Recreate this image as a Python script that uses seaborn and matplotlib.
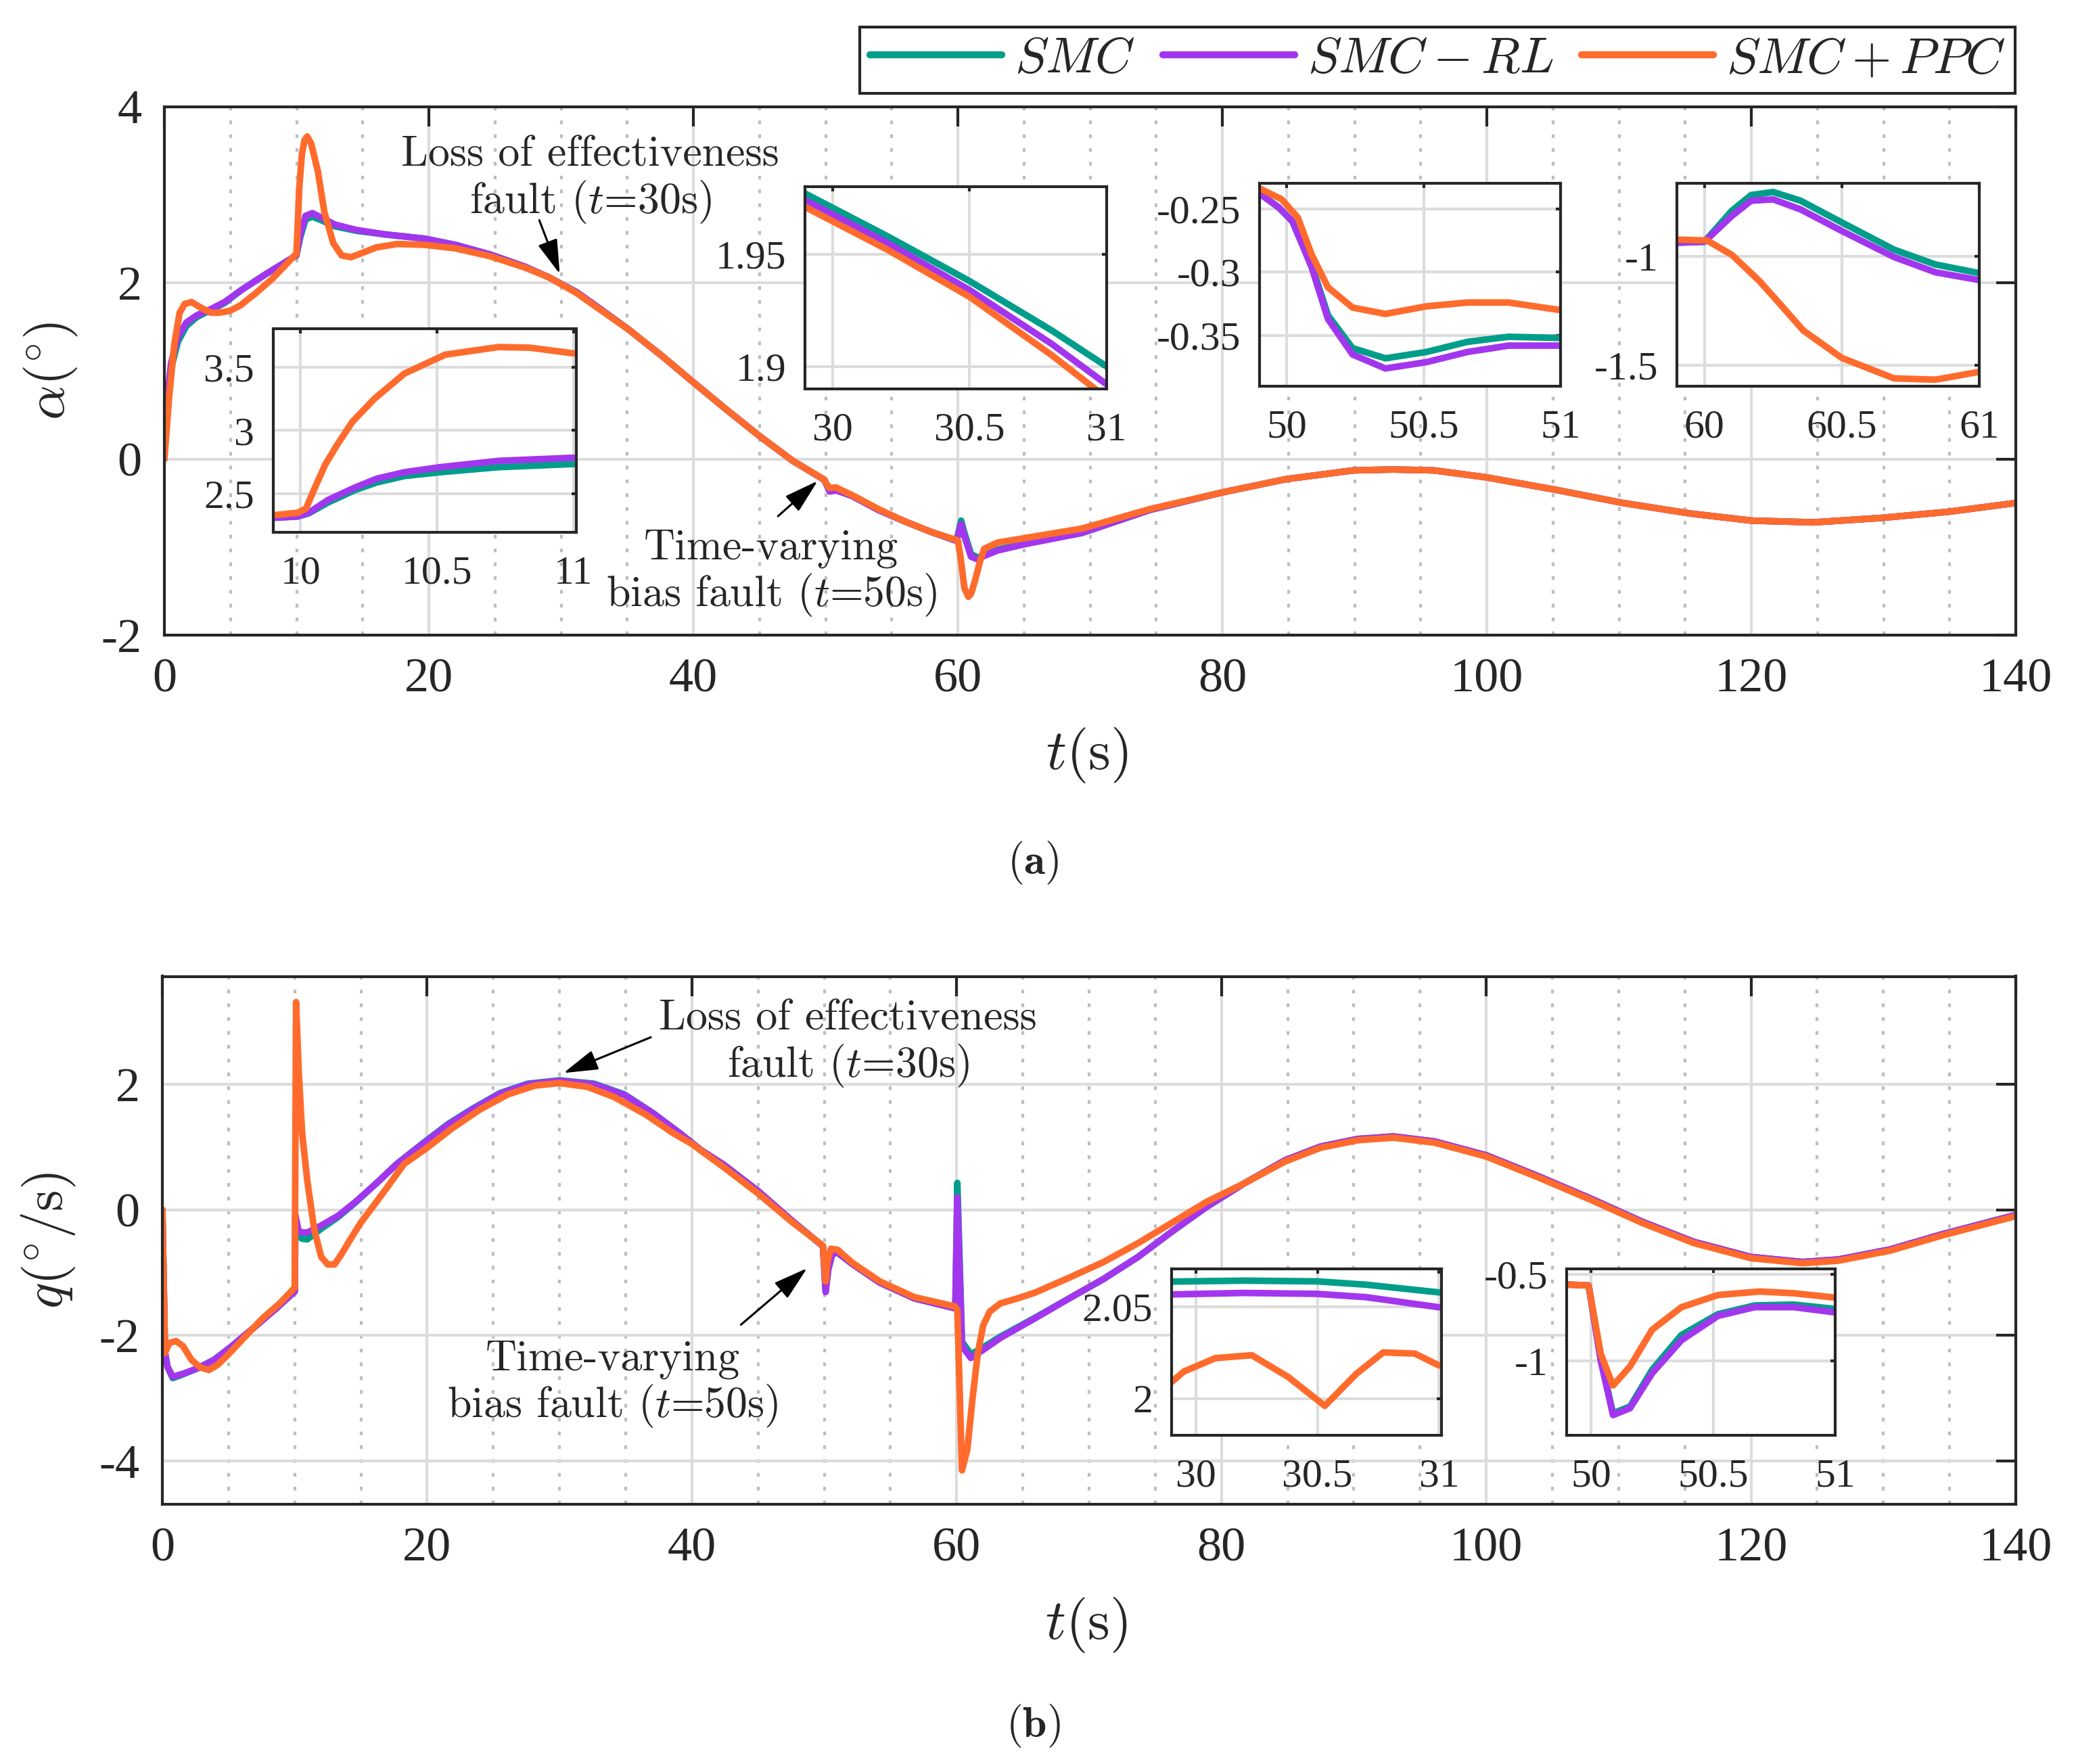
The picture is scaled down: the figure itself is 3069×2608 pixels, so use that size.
import matplotlib
matplotlib.use('Agg')
import matplotlib.pyplot as plt
import matplotlib.ticker as mticker
from matplotlib.lines import Line2D
import seaborn as sns
import pandas as pd

# Set the styles for the plots (fonts set after seaborn, it resets them)
sns.set_theme(style='white')
plt.rcParams['font.family'] = 'serif'
plt.rcParams['font.serif'] = ['Liberation Serif', 'Times New Roman', 'DejaVu Serif']
plt.rcParams['mathtext.fontset'] = 'cm'
plt.rcParams['axes.unicode_minus'] = False

# Controllers and their colours
controllers = ['SMC', 'SMC-RL', 'SMC+PPC']
legend_labels = ['$SMC$', '$SMC-RL$', '$SMC+PPC$']
palette = {'SMC': '#009E8A', 'SMC-RL': '#A236EE', 'SMC+PPC': '#FF6B2C'}

# ---------------- angle of attack alpha (deg) ----------------
alpha_t = [0, 0.1, 0.5, 1.02, 1.67, 2.45, 3.5, 4.55, 5.85, 7.7, 9.98, 10.3, 10.68, 11.2, 11.86,
           12.9, 14.5, 16.6, 19.7, 22.0, 24.65, 27.3, 29.1, 31.2, 32.7, 35.1, 37.7, 40, 42.5, 45,
           47.5, 49.9, 50.1, 50.3, 50.8, 52, 54, 56, 58, 59.9, 60.25, 60.5, 61, 61.5, 62, 63, 65,
           69.4, 74.5, 80, 84.8, 89.9, 92.9, 96, 100, 105.2, 110.3, 115.4, 120, 124.7, 129.8,
           134.9, 140]
alpha_smc = [0, 0.47, 1.02, 1.33, 1.51, 1.61, 1.69, 1.77, 1.92, 2.10, 2.31, 2.53, 2.72, 2.75, 2.71,
             2.64, 2.59, 2.55, 2.50, 2.43, 2.32, 2.18, 2.06, 1.89, 1.73, 1.47, 1.16, 0.87, 0.56,
             0.26, -0.02, -0.236, -0.30, -0.36, -0.351, -0.42, -0.58, -0.71, -0.83, -0.93, -0.70,
             -0.84, -1.08, -1.12, -1.09, -1.03, -0.96, -0.84, -0.58, -0.38, -0.23, -0.13, -0.12,
             -0.13, -0.21, -0.35, -0.5, -0.62, -0.7, -0.72, -0.67, -0.6, -0.5]
alpha_rl = [0, 0.53, 1.08, 1.39, 1.55, 1.63, 1.70, 1.78, 1.92, 2.10, 2.31, 2.57, 2.76, 2.79, 2.74,
            2.66, 2.60, 2.55, 2.50, 2.43, 2.32, 2.18, 2.06, 1.89, 1.73, 1.47, 1.16, 0.87, 0.56,
            0.26, -0.02, -0.238, -0.30, -0.37, -0.358, -0.42, -0.58, -0.71, -0.83, -0.93, -0.74,
            -0.88, -1.11, -1.14, -1.10, -1.04, -0.97, -0.84, -0.58, -0.38, -0.23, -0.13, -0.12,
            -0.13, -0.21, -0.35, -0.5, -0.62, -0.7, -0.72, -0.67, -0.6, -0.5]
alpha_t_ppc = [0, 0.37, 0.76, 1.15, 1.54, 2.07, 2.72, 3.5, 4.15, 4.94, 5.72, 6.9, 8.2, 9.98, 10.05,
               10.2, 10.4, 10.6, 10.8, 11.1, 11.6, 12.1, 12.77, 13.4, 14.1, 15.0, 16.0, 17.6, 19.7,
               22.0, 24.65, 27.3, 29.1, 31.2, 32.7, 35.1, 37.7, 40, 42.5, 45, 47.5, 49.9, 50.1,
               50.3, 50.8, 51, 52, 54, 56, 58, 59.9, 60.0, 60.2, 60.5, 60.8, 61.0, 61.3, 61.7, 62,
               63, 65, 69.4, 74.5, 80, 84.8, 89.9, 92.9, 96, 100, 105.2, 110.3, 115.4, 120, 124.7,
               129.8, 134.9, 140]
alpha_ppc = [0, 0.72, 1.31, 1.66, 1.76, 1.78, 1.72, 1.66, 1.66, 1.68, 1.74, 1.88, 2.05, 2.33, 2.54,
             3.08, 3.46, 3.62, 3.66, 3.58, 3.27, 2.80, 2.45, 2.31, 2.29, 2.34, 2.40, 2.44, 2.43,
             2.39, 2.30, 2.17, 2.06, 1.88, 1.72, 1.47, 1.16, 0.87, 0.56, 0.26, -0.02, -0.235,
             -0.29, -0.33, -0.324, -0.34, -0.41, -0.57, -0.71, -0.83, -0.92, -0.925, -1.11, -1.47,
             -1.565, -1.53, -1.38, -1.15, -1.02, -0.95, -0.9, -0.79, -0.57, -0.38, -0.23, -0.13,
             -0.12, -0.13, -0.21, -0.35, -0.5, -0.62, -0.7, -0.72, -0.67, -0.6, -0.5]

# alpha zooms
a1_t_ppc = [9.9, 9.99, 10.02, 10.05, 10.09, 10.135, 10.19, 10.27, 10.38, 10.53, 10.725, 10.84, 11.0]
a1_ppc = [2.33, 2.35, 2.384, 2.536, 2.73, 2.89, 3.07, 3.25, 3.45, 3.60, 3.66, 3.655, 3.61]
a1_t = [9.9, 9.99, 10.03, 10.1, 10.2, 10.28, 10.38, 10.51, 10.725, 11.0]
a1_smc = [2.31, 2.32, 2.345, 2.43, 2.53, 2.59, 2.64, 2.67, 2.71, 2.735]
a1_rl = [2.31, 2.32, 2.35, 2.45, 2.55, 2.62, 2.67, 2.71, 2.76, 2.785]

a2_t = [29.9, 30.2, 30.5, 30.8, 31.0]
a2_smc = [1.977, 1.958, 1.938, 1.916, 1.900]
a2_rl = [1.974, 1.955, 1.934, 1.910, 1.892]
a2_ppc = [1.971, 1.952, 1.931, 1.905, 1.886]

a3_t_ppc = [49.9, 49.98, 50.04, 50.09, 50.15, 50.24, 50.36, 50.51, 50.66, 50.81, 51.0]
a3_ppc = [-0.234, -0.2425, -0.257, -0.286, -0.312, -0.328, -0.333, -0.327, -0.324, -0.324, -0.33]
a3_t = [49.9, 49.97, 50.02, 50.09, 50.15, 50.24, 50.36, 50.51, 50.66, 50.81, 51.0]
a3_smc = [-0.238, -0.249, -0.26, -0.294, -0.334, -0.36, -0.368, -0.363, -0.355, -0.351, -0.352]
a3_rl = [-0.238, -0.249, -0.26, -0.296, -0.337, -0.365, -0.376, -0.371, -0.363, -0.358, -0.358]

a4_t = [59.9, 60.0, 60.1, 60.17, 60.25, 60.35, 60.5, 60.69, 60.84, 61.0]
a4_smc = [-0.936, -0.932, -0.789, -0.717, -0.703, -0.743, -0.843, -0.968, -1.036, -1.076]
a4_rl = [-0.936, -0.932, -0.813, -0.743, -0.737, -0.783, -0.882, -1.002, -1.072, -1.108]
a4_t_ppc = [59.9, 60.01, 60.1, 60.2, 60.27, 60.36, 60.5, 60.69, 60.84, 61.0]
a4_ppc = [-0.922, -0.926, -0.992, -1.112, -1.211, -1.34, -1.466, -1.56, -1.566, -1.53]

# ---------------- pitch rate q (deg/s) ----------------
q_t = [0, 0.2, 0.39, 0.78, 1.56, 2.6, 3.9, 5.2, 6.78, 8.6, 10.0, 10.05, 10.3, 10.55, 10.95, 12.0,
       13.3, 14.6, 16.2, 17.7, 19.55, 21.6, 23.5, 25.5, 27.6, 30, 32.6, 34.9, 37.0, 39.1, 40.7,
       42.4, 45.0, 47.6, 49.9, 50.1, 50.3, 50.6, 51, 52.1, 54.2, 56.8, 59.9, 60.05, 60.4, 61.07,
       62.0, 63.3, 65.9, 68.5, 71.1, 73.7, 76.3, 78.9, 81.7, 84.8, 87.5, 90.3, 93.0, 96.1, 100.0,
       103.9, 107.9, 111.8, 115.7, 120.0, 123.9, 126.6, 130.5, 134.4, 140]
q_smc = [0, -2.28, -2.5, -2.68, -2.62, -2.53, -2.39, -2.18, -1.9, -1.57, -1.30, -0.15, -0.42, -0.46,
         -0.47, -0.30, -0.11, 0.12, 0.43, 0.73, 1.04, 1.37, 1.62, 1.86, 2.01, 2.064, 2.01, 1.84,
         1.55, 1.22, 0.95, 0.72, 0.3, -0.18, -0.58, -1.28, -0.95, -0.7, -0.68, -0.86, -1.16,
         -1.41, -1.57, 0.43, -2.1, -2.3, -2.19, -2.02, -1.72, -1.41, -1.1, -0.75, -0.34, 0.05,
         0.42, 0.79, 1.01, 1.13, 1.17, 1.09, 0.87, 0.54, 0.18, -0.19, -0.51, -0.75, -0.83, -0.79,
         -0.63, -0.39, -0.08]
q_rl = [0, -2.28, -2.5, -2.66, -2.61, -2.53, -2.39, -2.18, -1.9, -1.57, -1.30, -0.09, -0.34, -0.36,
        -0.36, -0.25, -0.09, 0.13, 0.43, 0.73, 1.03, 1.36, 1.61, 1.85, 2.0, 2.057, 2.0, 1.83, 1.55,
        1.22, 0.95, 0.72, 0.3, -0.18, -0.58, -1.31, -0.95, -0.7, -0.68, -0.86, -1.16, -1.41,
        -1.57, 0.2, -2.17, -2.36, -2.23, -2.04, -1.73, -1.41, -1.1, -0.75, -0.34, 0.05, 0.42,
        0.79, 1.01, 1.13, 1.17, 1.09, 0.87, 0.54, 0.18, -0.19, -0.51, -0.75, -0.83, -0.79, -0.63,
        -0.39, -0.08]
q_t_ppc = [0, 0.2, 0.52, 1.04, 1.56, 2.2, 2.87, 3.52, 4.17, 4.95, 6.25, 7.56, 8.86, 10.0, 10.1,
           10.3, 10.56, 10.95, 11.47, 12.0, 12.5, 13.0, 13.55, 14.2, 15.0, 15.9, 16.95, 18.25,
           19.94, 21.9, 24.0, 26.1, 28.15, 30.0, 32.1, 34.1, 36.5, 38.6, 40.0, 42.4, 45.0, 47.6,
           49.9, 50.1, 50.25, 50.5, 51, 52.1, 54.2, 56.8, 59.9, 60.05, 60.4, 60.8, 61.2, 61.6,
           62.0, 62.5, 63.3, 64.6, 65.9, 68.5, 71.1, 73.7, 76.3, 78.9, 81.7, 84.8, 87.5, 90.3,
           93.0, 96.1, 100.0, 103.9, 107.9, 111.8, 115.7, 120.0, 123.9, 126.6, 130.5, 134.4, 140]
q_ppc = [0, -2.28, -2.12, -2.09, -2.17, -2.39, -2.51, -2.55, -2.47, -2.31, -2.02, -1.73, -1.49,
         -1.24, 3.31, 2.21, 1.22, 0.46, -0.31, -0.75, -0.87, -0.87, -0.70, -0.47, -0.20, 0.05,
         0.35, 0.73, 0.98, 1.30, 1.60, 1.84, 1.98, 2.02, 1.96, 1.80, 1.52, 1.22, 1.05, 0.68, 0.26,
         -0.2, -0.57, -1.14, -0.82, -0.62, -0.635, -0.84, -1.14, -1.39, -1.54, -1.6, -4.15, -3.82,
         -3.0, -2.28, -1.84, -1.62, -1.49, -1.41, -1.32, -1.08, -0.83, -0.53, -0.2, 0.13, 0.42,
         0.77, 0.99, 1.11, 1.15, 1.07, 0.85, 0.52, 0.16, -0.21, -0.53, -0.77, -0.85, -0.81, -0.65,
         -0.41, -0.1]

# q zooms
qa_t = [29.9, 30.2, 30.5, 30.7, 31.0]
qa_smc = [2.0637, 2.0642, 2.0638, 2.0620, 2.0578]
qa_rl = [2.0567, 2.0575, 2.0570, 2.0552, 2.0497]
qa_t_ppc = [29.9, 29.95, 30.08, 30.23, 30.38, 30.53, 30.66, 30.77, 30.9, 31.0]
qa_ppc = [2.009, 2.0147, 2.022, 2.0236, 2.0117, 1.996, 2.0135, 2.0251, 2.0245, 2.018]

qb_t = [49.9, 49.99, 50.04, 50.09, 50.16, 50.25, 50.37, 50.52, 50.67, 50.83, 51.0]
qb_smc = [-0.56, -0.565, -0.99, -1.30, -1.26, -1.05, -0.85, -0.73, -0.68, -0.675, -0.70]
qb_rl = [-0.56, -0.565, -1.0, -1.31, -1.27, -1.07, -0.88, -0.74, -0.69, -0.69, -0.72]
qb_t_ppc = [49.9, 49.99, 50.04, 50.09, 50.16, 50.25, 50.37, 50.52, 50.69, 50.83, 51.0]
qb_ppc = [-0.56, -0.565, -0.96, -1.14, -1.03, -0.82, -0.69, -0.62, -0.60, -0.61, -0.635]

W, H = 3069, 2608
DARK = '#262626'


def px_axes(fig, x0, x1, y0, y1):
    """Add an axes given its pixel box (top-left origin)."""
    return fig.add_axes([x0 / W, 1 - y1 / H, (x1 - x0) / W, (y1 - y0) / H])


def draw_curves(ax, series, lw=7):
    """Plot the three controllers with seaborn from (name, t, values) triples."""
    frames = [pd.DataFrame({'t': t, 'v': v, 'ctrl': name}) for name, t, v in series]
    df = pd.concat(frames, ignore_index=True)
    sns.lineplot(data=df, x='t', y='v', hue='ctrl', hue_order=controllers, palette=palette,
                 estimator=None, sort=False, lw=lw, legend=False, ax=ax)
    ax.set_xlabel('')
    ax.set_ylabel('')


def style_main(ax, ylim, yticks):
    ax.set_xlim(0, 140)
    ax.set_ylim(*ylim)
    ax.set_xticks(range(0, 141, 20))
    ax.set_xticks(range(0, 141, 5), minor=True)
    ax.set_yticks(yticks)
    ax.xaxis.set_major_formatter(mticker.FormatStrFormatter('%g'))
    ax.yaxis.set_major_formatter(mticker.FormatStrFormatter('%g'))
    ax.grid(True, which='major', color='#dcdcdc', lw=3)
    ax.grid(True, which='minor', axis='x', color='#bdbdbd', lw=3, ls=(0, (1.3, 3.6)))
    ax.tick_params(which='major', direction='in', length=21, width=3, top=True, right=True,
                   labelsize=52, pad=24, color=DARK, labelcolor=DARK)
    ax.tick_params(which='minor', length=0)
    for s in ax.spines.values():
        s.set_linewidth(3)
        s.set_color(DARK)
    ax.set_axisbelow(True)


def style_inset(ax, xlim, ylim, xticks, yticks):
    ax.set_facecolor('white')
    ax.set_xlim(*xlim)
    ax.set_ylim(*ylim)
    ax.set_xticks(xticks)
    ax.set_yticks(yticks)
    ax.xaxis.set_major_formatter(mticker.FormatStrFormatter('%g'))
    ax.yaxis.set_major_formatter(mticker.FormatStrFormatter('%g'))
    ax.grid(True, color='#dcdcdc', lw=3)
    ax.tick_params(direction='in', length=5, width=3, top=True, right=True, labelsize=43,
                   color=DARK, labelcolor=DARK)
    ax.tick_params(axis='x', pad=25)
    ax.tick_params(axis='y', pad=20)
    for s in ax.spines.values():
        s.set_linewidth(3)
        s.set_color(DARK)
    ax.set_axisbelow(True)


def arrow(ax, head, tail):
    ax.annotate('', xy=head, xytext=tail,
                arrowprops=dict(arrowstyle='-|>,head_length=0.75,head_width=0.22', color='black',
                                lw=2.2, mutation_scale=42, shrinkA=0, shrinkB=0))


fig = plt.figure(figsize=(W / 100, H / 100), dpi=100)

# ---------------- panel (a) ----------------
ax1 = px_axes(fig, 243, 2980, 157.5, 939)
draw_curves(ax1, [('SMC', alpha_t, alpha_smc), ('SMC-RL', alpha_t, alpha_rl),
                  ('SMC+PPC', alpha_t_ppc, alpha_ppc)])
style_main(ax1, (-2, 4), [-2, 0, 2, 4])
ax1.set_ylabel(r'$\alpha(^{\circ})$', fontsize=58, color=DARK)
ax1.yaxis.set_label_coords(-0.046, 0.5)
ax1.set_xlabel(r'$t(\mathrm{s})$', fontsize=60, color=DARK)
ax1.xaxis.set_label_coords(0.4984, -0.172)

ax1.text(32.2, 3.16, 'Loss of effectiveness\nfault ($t$=30s)', family='cmr10', fontsize=46,
         ha='center', va='center', linespacing=1.1)
arrow(ax1, (29.9, 2.1), (28.35, 2.71))
ax1.text(45.9, -1.3, 'Time-varying\nbias fault ($t$=50s)', family='cmr10', fontsize=46,
         ha='center', va='center', linespacing=1.1)
arrow(ax1, (49.4, -0.25), (46.4, -0.65))

in1 = px_axes(fig, 404, 852, 486, 787)
draw_curves(in1, [('SMC', a1_t, a1_smc), ('SMC-RL', a1_t, a1_rl), ('SMC+PPC', a1_t_ppc, a1_ppc)])
style_inset(in1, (9.9, 11.01), (2.195, 3.805), [10, 10.5, 11], [2.5, 3, 3.5])

in2 = px_axes(fig, 1190, 1636, 276, 575)
draw_curves(in2, [('SMC', a2_t, a2_smc), ('SMC-RL', a2_t, a2_rl), ('SMC+PPC', a2_t, a2_ppc)])
style_inset(in2, (29.9, 31.0), (1.89, 1.98), [30, 30.5, 31], [1.9, 1.95])

in3 = px_axes(fig, 1862, 2307, 271, 571)
draw_curves(in3, [('SMC', a3_t, a3_smc), ('SMC-RL', a3_t, a3_rl), ('SMC+PPC', a3_t_ppc, a3_ppc)])
style_inset(in3, (49.9, 51.0), (-0.39, -0.23), [50, 50.5, 51], [-0.35, -0.3, -0.25])

in4 = px_axes(fig, 2479, 2926, 271, 571)
draw_curves(in4, [('SMC', a4_t, a4_smc), ('SMC-RL', a4_t, a4_rl), ('SMC+PPC', a4_t_ppc, a4_ppc)])
style_inset(in4, (59.9, 61.0), (-1.596, -0.663), [60, 60.5, 61], [-1.5, -1])

# ---------------- panel (b) ----------------
ax2 = px_axes(fig, 240, 2980, 1443.5, 2224)
draw_curves(ax2, [('SMC', q_t, q_smc), ('SMC-RL', q_t, q_rl), ('SMC+PPC', q_t_ppc, q_ppc)])
style_main(ax2, (-4.69, 3.72), [-4, -2, 0, 2])
ax2.set_ylabel(r'$q(^{\circ}/\mathrm{s})$', fontsize=58, color=DARK)
ax2.yaxis.set_label_coords(-0.046, 0.5)
ax2.set_xlabel(r'$t(\mathrm{s})$', fontsize=60, color=DARK)
ax2.xaxis.set_label_coords(0.4984, -0.173)

ax2.text(51.8, 2.64, 'Loss of effectiveness\nfault ($t$=30s)', family='cmr10', fontsize=46,
         ha='center', va='center', linespacing=1.1)
arrow(ax2, (30.3, 2.18), (36.9, 2.75))
ax2.text(34.0, -2.78, 'Time-varying\nbias fault ($t$=50s)', family='cmr10', fontsize=46,
         ha='center', va='center', linespacing=1.1)
arrow(ax2, (48.7, -0.93), (43.7, -1.83))

inA = px_axes(fig, 1732, 2131, 1876, 2122)
draw_curves(inA, [('SMC', qa_t, qa_smc), ('SMC-RL', qa_t, qa_rl), ('SMC+PPC', qa_t_ppc, qa_ppc)])
style_inset(inA, (29.9, 31.01), (1.98, 2.0706), [30, 30.5, 31], [2, 2.05])

inB = px_axes(fig, 2316, 2713, 1876, 2122)
draw_curves(inB, [('SMC', qb_t, qb_smc), ('SMC-RL', qb_t, qb_rl), ('SMC+PPC', qb_t_ppc, qb_ppc)])
style_inset(inB, (49.9, 51.0), (-1.426, -0.47), [50, 50.5, 51], [-1, -0.5])

# panel captions
fig.text(1527 / W, 1 - 1275 / H, r'$(\mathbf{a})$', fontsize=46, ha='center', va='center')
fig.text(1527 / W, 1 - 2551 / H, r'$(\mathbf{b})$', fontsize=46, ha='center', va='center')

# legend on top
handles = [Line2D([], [], color=palette[c], lw=7.5) for c in controllers]
leg = fig.legend(handles, legend_labels, loc='lower right', bbox_to_anchor=(2979 / W, 1 - 138 / H),
                 ncol=3, fontsize=54, handlelength=2.6, handletextpad=0.25, columnspacing=0.55,
                 borderpad=0.2, borderaxespad=0, frameon=True, fancybox=False, framealpha=1,
                 edgecolor=DARK)
leg.get_frame().set_linewidth(3)

fig.savefig('out.png', dpi=100)
